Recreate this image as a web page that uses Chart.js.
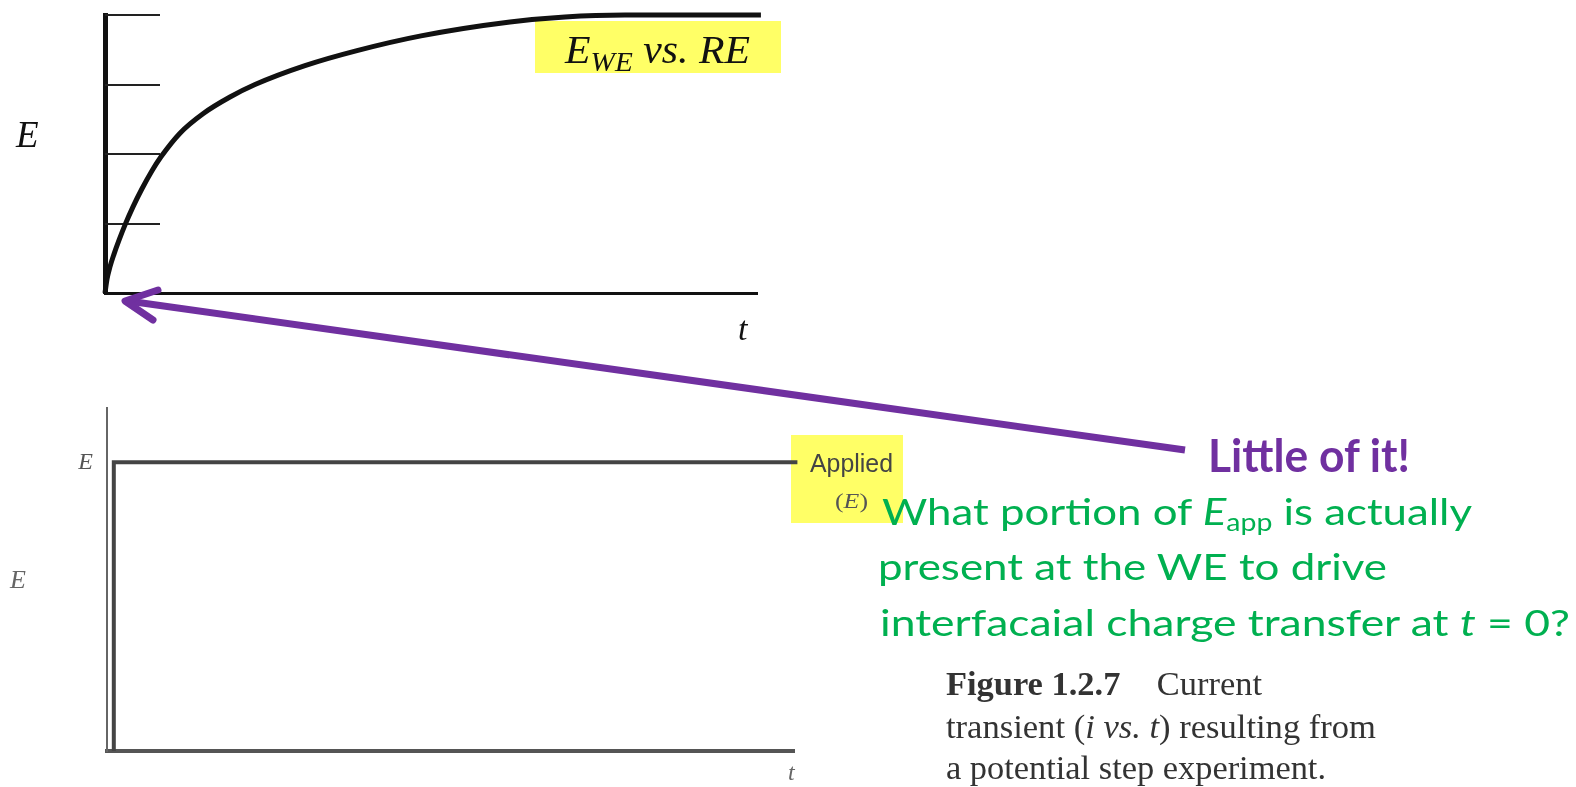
<!DOCTYPE html>
<html>
<head>
<meta charset="utf-8">
<script src="https://cdn.jsdelivr.net/npm/chart.js@4.4.1/dist/chart.umd.min.js"></script>
<style>
  html, body { margin: 0; padding: 0; background: #fff; }
  body { position: relative; width: 1576px; height: 787px; overflow: hidden; }
  canvas { position: absolute; }
  .lbl { position: absolute; white-space: nowrap; transform-origin: 0 0; line-height: 1; }
  .serif { font-family: 'Liberation Serif', 'DejaVu Serif', serif; }
  .sans { font-family: 'Liberation Sans', Arial, sans-serif; }
  .lato { font-family: Lato, 'Open Sans', sans-serif; }
  .sub { font-size: 0.65em; vertical-align: -0.25em; }
  .sub2 { font-size: 0.7em; vertical-align: -0.3em; }
  .box { position: absolute; background: #ffff66; }
</style>
</head>
<body>
<div class="box" style="left:535px;top:21px;width:246px;height:52px"></div>
<div class="box" style="left:791px;top:435px;width:112px;height:88px"></div>
<canvas id="top" width="800" height="330" style="left:0;top:0"></canvas>
<canvas id="bottom" width="840" height="407" style="left:0;top:380px"></canvas>
<svg width="1576" height="787" style="position:absolute;left:0;top:0">
  <line x1="1185" y1="450" x2="128" y2="301" stroke="#7030a0" stroke-width="7"/>
  <polyline points="158,290 125,301 153,320" fill="none" stroke="#7030a0" stroke-width="7" stroke-linecap="round" stroke-linejoin="round"/>
</svg>
<script>
// top panel: E(WE vs RE) rising after the step
const topT = [0, 0.031, 0.077, 0.138, 0.215, 0.307, 0.429, 0.567, 0.721, 0.859, 1.15, 1.503, 1.917, 2.301, 3.067, 3.865, 4.847, 6.212, 7.055, 7.975, 10.06]
const topE = [0, 0.05, 0.095, 0.14, 0.19, 0.245, 0.31, 0.375, 0.44, 0.49, 0.575, 0.645, 0.705, 0.75, 0.818, 0.872, 0.925, 0.975, 0.993, 1.0, 1.0]
const topTicks = [0.25, 0.5, 0.75, 1.0]

// bottom panel: applied potential step
const stepT = [0, 0, 10.05]
const stepE = [0, 1, 1]
const stepTicks = [1]

const toPoints = (xs, ys) => xs.map((x, i) => ({ x: x, y: ys[i] }))

// short tick marks drawn inside the plot, from the y axis inwards
const innerTicks = {
  id: 'innerTicks',
  beforeDatasetsDraw(chart, args, opts) {
    if (!opts.values) return
    const { ctx, chartArea, scales: { y } } = chart
    ctx.save()
    ctx.strokeStyle = '#222'
    ctx.lineWidth = 2
    opts.values.forEach((v) => {
      const py = Math.round(y.getPixelForValue(v))
      ctx.beginPath()
      ctx.moveTo(chartArea.left, py)
      ctx.lineTo(chartArea.left + opts.length, py)
      ctx.stroke()
    })
    ctx.restore()
  }
}

new Chart(document.getElementById('top'), {
  type: 'scatter',
  data: {
    datasets: [{
      data: toPoints(topT, topE),
      showLine: true,
      borderColor: '#111',
      borderWidth: 5,
      pointRadius: 0,
      cubicInterpolationMode: 'monotone',
      clip: false
    }]
  },
  options: {
    responsive: false,
    animation: false,
    events: [],
    layout: { padding: { top: 15, right: 43, left: 0, bottom: 0 } },
    plugins: {
      legend: { display: false },
      tooltip: { enabled: false },
      innerTicks: { values: topTicks, length: 55 }
    },
    scales: {
      x: {
        type: 'linear', min: 0, max: 10,
        ticks: { display: false },
        grid: { display: false, drawTicks: false },
        border: { color: '#111', width: 3 },
        afterFit(s) { s.height = 37 }
      },
      y: {
        min: 0, max: 1,
        ticks: { display: false },
        grid: { display: false, drawTicks: false },
        border: { color: '#111', width: 5 },
        afterFit(s) { s.width = 105 }
      }
    }
  },
  plugins: [innerTicks]
})

new Chart(document.getElementById('bottom'), {
  type: 'scatter',
  data: {
    datasets: [{
      data: toPoints(stepT, stepE),
      showLine: true,
      borderColor: '#444',
      borderWidth: 4,
      pointRadius: 0,
      tension: 0,
      clip: false
    }]
  },
  options: {
    responsive: false,
    animation: false,
    events: [],
    layout: { padding: { top: 28, right: 46, left: 0, bottom: 0 } },
    plugins: { legend: { display: false }, tooltip: { enabled: false } },
    scales: {
      x: {
        type: 'linear', min: -0.1, max: 10,
        ticks: { display: false },
        grid: { display: false, drawTicks: false },
        border: { color: '#555', width: 4 },
        afterFit(s) { s.height = 36 }
      },
      y: {
        min: 0, max: 1.187,
        afterBuildTicks(s) { s.ticks = stepTicks.map((v) => ({ value: v })) },
        ticks: {
          padding: 14,
          color: '#555',
          font: { family: 'Liberation Serif', style: 'italic', size: 24 },
          callback: () => 'E'
        },
        grid: { display: false, drawTicks: false },
        border: { color: '#666', width: 2 },
        afterFit(s) { s.width = 107 }
      }
    }
  }
})

// text placed by baseline, optionally squeezed to a target width
function place(html, cls, size, color, x, base, width, weight) {
  const el = document.createElement('div')
  el.className = 'lbl ' + cls
  el.innerHTML = html
  el.style.fontSize = size + 'px'
  el.style.color = color
  if (weight) el.style.fontWeight = weight
  el.style.left = x + 'px'
  el.style.top = '0px'
  document.body.appendChild(el)
  const probe = document.createElement('span')
  probe.style.display = 'inline-block'
  probe.style.width = '0'
  probe.style.height = '0'
  el.appendChild(probe)
  const b = probe.offsetTop
  el.removeChild(probe)
  el.style.top = (base - b) + 'px'
  if (width) {
    const w = el.getBoundingClientRect().width
    el.style.transform = 'scaleX(' + (width / w) + ')'
  }
}

place('<i>E</i>', 'serif', 37, '#111', 16, 147)
place('<i>t</i>', 'serif', 34, '#111', 738, 340)
place('<i>E<span class="sub2">WE</span> vs. RE</i>', 'serif', 39, '#111', 565, 63, 185)
place('<i>E</i>', 'serif', 26, '#666', 10, 588)
place('<i>t</i>', 'serif', 24, '#666', 788, 780)
place('Applied', 'sans', 25, '#444', 810, 472, 83)
place('(<i>E</i>)', 'serif', 22, '#555', 835, 508, 33)
place('Little of it!', 'lato', 45, '#7030a0', 1208, 472, 202, 'bold')
place('What portion of <i>E</i><span class="sub">app</span> is actually', 'lato', 37, '#00b050', 882, 525, 590)
place('present at the WE to drive', 'lato', 37, '#00b050', 878, 580, 509)
place('interfacaial charge transfer at <i>t</i> = 0?', 'lato', 37, '#00b050', 880, 636, 690)
place('<b>Figure 1.2.7</b><span style="display:inline-block;width:36px"></span>Current', 'serif', 34, '#333', 946, 695, 316)
place('transient (<i>i vs. t</i>) resulting from', 'serif', 34, '#333', 946, 738, 430)
place('a potential step experiment.', 'serif', 34, '#333', 946, 779, 380)
</script>
</body>
</html>
